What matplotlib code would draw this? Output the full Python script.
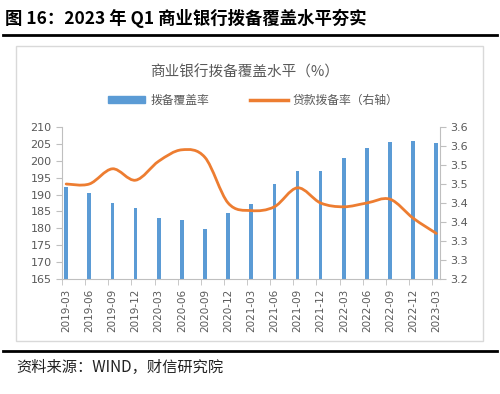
import matplotlib
matplotlib.use("Agg")
import matplotlib.pyplot as plt
from matplotlib.path import Path
from matplotlib.patches import PathPatch, Rectangle, Patch
from matplotlib.lines import Line2D

plt.rcParams['font.family'] = ['DejaVu Sans', 'Noto Sans CJK SC']

quarters = ['2019-03', '2019-06', '2019-09', '2019-12', '2020-03', '2020-06',
            '2020-09', '2020-12', '2021-03', '2021-06', '2021-09', '2021-12',
            '2022-03', '2022-06', '2022-09', '2022-12', '2023-03']
coverage = [192.2, 190.6, 187.6, 186.1, 183.2, 182.4, 179.9, 184.5, 187.1,
            193.2, 197.0, 196.9, 200.7, 203.8, 205.5, 205.9, 205.2]
provision = [3.45, 3.45, 3.49, 3.46, 3.51, 3.54, 3.52, 3.40, 3.38,
             3.39, 3.44, 3.40, 3.39, 3.40, 3.41, 3.36, 3.32]
left_ticks = list(range(165, 211, 5))
right_ticks = [3.2, 3.25, 3.3, 3.35, 3.4, 3.45, 3.5, 3.55, 3.6]

blue = '#5B9BD5'
orange = '#ED7D31'
grey_txt = '#595959'
grey_ax = '#BFBFBF'
cjk = ['Noto Sans CJK SC', 'DejaVu Sans']


def smooth_path(xs, ys):
    # Excel-style smoothed line: cubic Bezier segments (Catmull-Rom controls)
    n = len(xs)
    verts = [(xs[0], ys[0])]
    codes = [Path.MOVETO]
    for i in range(n - 1):
        a = max(i - 1, 0)
        b = min(i + 2, n - 1)
        c1 = (xs[i] + (xs[i + 1] - xs[a]) / 6, ys[i] + (ys[i + 1] - ys[a]) / 6)
        c2 = (xs[i + 1] - (xs[b] - xs[i]) / 6, ys[i + 1] - (ys[b] - ys[i]) / 6)
        verts += [c1, c2, (xs[i + 1], ys[i + 1])]
        codes += [Path.CURVE4] * 3
    return Path(verts, codes)


fig = plt.figure(figsize=(5, 3.94), dpi=100)

# outer decorations
fig.text(5 / 500, 1 - 18 / 394, '图 16：2023 年 Q1 商业银行拨备覆盖水平夯实',
         fontsize=12.5, fontweight='heavy', family=cjk, va='center', ha='left')
fig.add_artist(Line2D([3 / 500, 497 / 500], [1 - 35 / 394] * 2, color='black', lw=2))
fig.add_artist(Rectangle((16 / 500, 1 - 341 / 394), 467 / 500, 295 / 394,
                         fill=False, edgecolor='#D9D9D9', lw=1))
fig.add_artist(Line2D([3 / 500, 497 / 500], [1 - 351 / 394] * 2, color='black', lw=2))
fig.text(16 / 500, 1 - 367 / 394, '资料来源：WIND，财信研究院', fontsize=11,
         style='italic', family=cjk, va='center', ha='left', color='#222222')

fig.text(245 / 500, 1 - 72 / 394, '商业银行拨备覆盖水平（%）', fontsize=10.5,
         family=cjk, color=grey_txt, ha='center', va='center')

ax = fig.add_axes([62 / 500, 1 - 279 / 394, 378 / 500, 152 / 394])
x = list(range(len(quarters)))
ax.bar(x, coverage, width=0.16, color=blue, zorder=2)
ax.set_xlim(-0.18, len(quarters) - 1 + 0.16)
ax.set_ylim(165, 210)
ax.set_yticks(left_ticks)
ax.set_xticks(x)
ax.set_xticklabels(quarters, rotation=90, fontsize=7.5, color=grey_txt)
ax.set_xticks([i - 0.18 for i in x], minor=True)
ax.tick_params(axis='x', which='major', length=0, pad=7)
ax.tick_params(axis='x', which='minor', length=4, color=grey_ax, direction='out')
ax.tick_params(axis='y', labelsize=8, labelcolor=grey_txt, length=4, color=grey_ax)
for s in ['top', 'right']:
    ax.spines[s].set_visible(False)
for s in ['left', 'bottom']:
    ax.spines[s].set_color(grey_ax)

ax2 = ax.twinx()
ax2.set_ylim(3.2, 3.6)
ax2.set_yticks(right_ticks)
ax2.set_yticklabels(['%.1f' % (t + 1e-9) for t in right_ticks])
ax2.add_patch(PathPatch(smooth_path(x, provision), fill=False, edgecolor=orange,
                        lw=2.0, capstyle='round', zorder=3))
ax2.tick_params(axis='y', labelsize=8, labelcolor=grey_txt, length=4, color=grey_ax)
for s in ['top', 'left', 'bottom']:
    ax2.spines[s].set_visible(False)
ax2.spines['right'].set_color(grey_ax)

handles = [Patch(color=blue), Line2D([], [], color=orange, lw=2.5)]
fig.legend(handles, ['拨备覆盖率', '贷款拨备率（右轴）'], loc='center',
           bbox_to_anchor=(253 / 500, 1 - 100 / 394), ncol=2, frameon=False,
           prop={'family': cjk, 'size': 8.5}, labelcolor=grey_txt,
           handlelength=3.2, handleheight=0.6, columnspacing=3.5, handletextpad=0.4)

fig.savefig('out.png', dpi=100)
